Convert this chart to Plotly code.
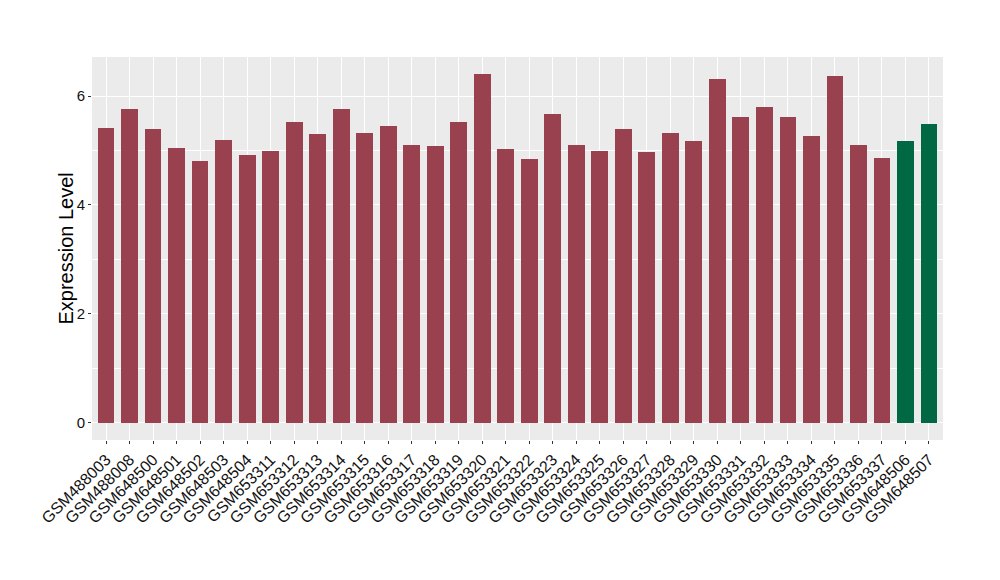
import plotly.graph_objects as go

samples = ["GSM488003", "GSM488008", "GSM648500", "GSM648501", "GSM648502", "GSM648503",
           "GSM648504", "GSM653311", "GSM653312", "GSM653313", "GSM653314", "GSM653315",
           "GSM653316", "GSM653317", "GSM653318", "GSM653319", "GSM653320", "GSM653321",
           "GSM653322", "GSM653323", "GSM653324", "GSM653325", "GSM653326", "GSM653327",
           "GSM653328", "GSM653329", "GSM653330", "GSM653331", "GSM653332", "GSM653333",
           "GSM653334", "GSM653335", "GSM653336", "GSM653337", "GSM648506", "GSM648507"]
values = [5.41, 5.76, 5.39, 5.04, 4.80, 5.20, 4.91, 5.00, 5.52, 5.30, 5.76, 5.33,
          5.46, 5.11, 5.08, 5.52, 6.41, 5.02, 4.84, 5.68, 5.11, 5.00, 5.39, 4.98,
          5.33, 5.18, 6.31, 5.61, 5.81, 5.61, 5.26, 6.38, 5.11, 4.87, 5.18, 5.48]
groups = ["a"] * 34 + ["b"] * 2
group_colors = {"a": "#9A4150", "b": "#006843"}
y_title = "Expression Level"

fig = go.Figure()
fig.add_trace(go.Bar(
    x=samples, y=values, width=0.71,
    marker=dict(color=[group_colors[g] for g in groups], line=dict(width=0)),
    showlegend=False,
))

fig.update_layout(
    width=1000, height=580,
    margin=dict(l=84, r=65, t=49, b=148),
    paper_bgcolor="white", plot_bgcolor="#EBEBEB",
    font=dict(family="Liberation Sans, Arial, sans-serif", color="#111111"),
    bargap=0,
)
fig.update_xaxes(
    range=[-0.6, 35.6], tickangle=-45, tickfont=dict(size=16, color="#111111"),
    showgrid=True, gridcolor="white", gridwidth=1.1,
    ticks="outside", ticklen=3, tickcolor="#333333", tickwidth=1,
    zeroline=False, showline=False, automargin=False,
)
fig.update_yaxes(
    range=[-0.32, 6.72], tickvals=[0, 2, 4, 6], tickfont=dict(size=15, color="#111111"),
    showgrid=True, gridcolor="white", gridwidth=1.1,
    minor=dict(tickvals=[1, 3, 5], showgrid=True, gridcolor="white", gridwidth=0.5, ticks=""),
    ticks="outside", ticklen=3, tickcolor="#333333", tickwidth=1,
    zeroline=False, showline=False, automargin=False,
)
fig.add_annotation(
    text=y_title, xref="paper", yref="paper", x=0, y=0.5, xshift=-27,
    xanchor="center", yanchor="middle", textangle=-90, showarrow=False,
    font=dict(size=20, color="black"),
)

fig.write_html("out.html")
